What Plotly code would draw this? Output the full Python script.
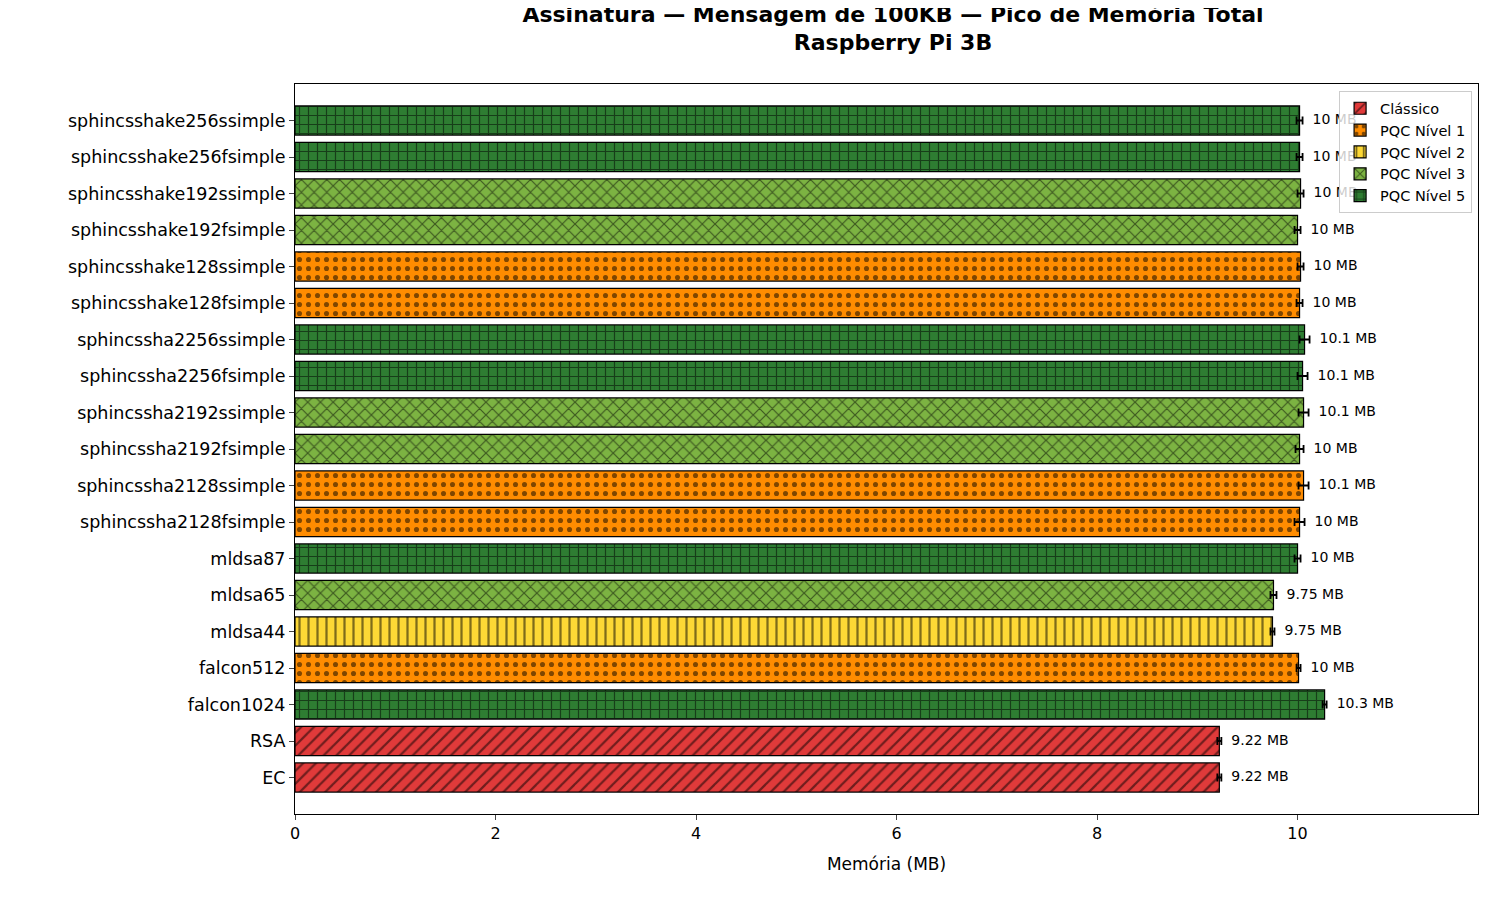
import plotly.graph_objects as go

categories = ["EC", "RSA", "falcon1024", "falcon512", "mldsa44", "mldsa65", "mldsa87",
              "sphincssha2128fsimple", "sphincssha2128ssimple", "sphincssha2192fsimple",
              "sphincssha2192ssimple", "sphincssha2256fsimple", "sphincssha2256ssimple",
              "sphincsshake128fsimple", "sphincsshake128ssimple", "sphincsshake192fsimple",
              "sphincsshake192ssimple", "sphincsshake256fsimple", "sphincsshake256ssimple"]
memory_mb = [9.22, 9.22, 10.27, 10.01, 9.75, 9.76, 10.0,
             10.02, 10.06, 10.02, 10.06, 10.05, 10.07,
             10.02, 10.03, 10.0, 10.03, 10.02, 10.02]
errors = [0.02, 0.02, 0.02, 0.02, 0.02, 0.03, 0.03,
          0.05, 0.05, 0.04, 0.05, 0.05, 0.05,
          0.03, 0.03, 0.03, 0.03, 0.03, 0.03]
levels = ["Clássico", "Clássico", "PQC Nível 5", "PQC Nível 1", "PQC Nível 2", "PQC Nível 3", "PQC Nível 5",
          "PQC Nível 1", "PQC Nível 1", "PQC Nível 3", "PQC Nível 3", "PQC Nível 5", "PQC Nível 5",
          "PQC Nível 1", "PQC Nível 1", "PQC Nível 3", "PQC Nível 3", "PQC Nível 5", "PQC Nível 5"]
labels = ["9.22 MB", "9.22 MB", "10.3 MB", "10 MB", "9.75 MB", "9.75 MB", "10 MB",
          "10 MB", "10.1 MB", "10 MB", "10.1 MB", "10.1 MB", "10.1 MB",
          "10 MB", "10 MB", "10 MB", "10 MB", "10 MB", "10 MB"]

styles = {
    "Clássico": ("#e03a3a", "/"),
    "PQC Nível 1": ("#ff8c00", "."),
    "PQC Nível 2": ("#fdd835", "|"),
    "PQC Nível 3": ("#7cb342", "x"),
    "PQC Nível 5": ("#2e7d32", "+"),
}

fig = go.Figure()
for lvl, (color, shape) in styles.items():
    idx = [i for i, l in enumerate(levels) if l == lvl]
    fig.add_trace(go.Bar(
        y=[categories[i] for i in idx], x=[memory_mb[i] for i in idx],
        orientation="h", name=lvl, width=0.8,
        marker=dict(color=color, line=dict(color="black", width=1.2),
                    pattern=dict(shape=shape, fgcolor="black", bgcolor=color, size=9, solidity=0.25)),
        error_x=dict(type="data", array=[errors[i] for i in idx], color="black", thickness=1.8, width=4),
    ))

fig.add_trace(go.Scatter(
    y=categories, x=[m + e + 0.1 for m, e in zip(memory_mb, errors)],
    mode="text", text=labels, textposition="middle right",
    textfont=dict(size=14, color="black"), showlegend=False, hoverinfo="skip", cliponaxis=False,
))

fig.update_layout(
    width=1500, height=900, plot_bgcolor="white", paper_bgcolor="white",
    font=dict(family="DejaVu Sans", color="black", size=16),
    title=dict(text="<b>Assinatura — Mensagem de 100KB — Pico de Memória Total<br>Raspberry Pi 3B</b>",
               x=0.59, xanchor="center", y=0.985, yanchor="top", font=dict(size=22)),
    margin=dict(l=287, r=30, t=76, b=94),
    barmode="overlay",
    legend=dict(x=0.995, y=0.99, xanchor="right", yanchor="top", bgcolor="rgba(255,255,255,0.8)",
                bordercolor="#cccccc", borderwidth=1, font=dict(size=14.5), tracegroupgap=0),
    xaxis=dict(range=[0, 11.8], dtick=2, showgrid=False, zeroline=False, ticks="outside",
               showline=True, linecolor="black", mirror=True, tickfont=dict(size=16),
               title=dict(text="Memória (MB)", font=dict(size=17))),
    yaxis=dict(categoryorder="array", categoryarray=categories, range=[-1, len(categories)],
               showgrid=False, ticks="outside", showline=True, linecolor="black", mirror=True,
               tickfont=dict(size=17.5)),
)
fig.write_html("out.html")
